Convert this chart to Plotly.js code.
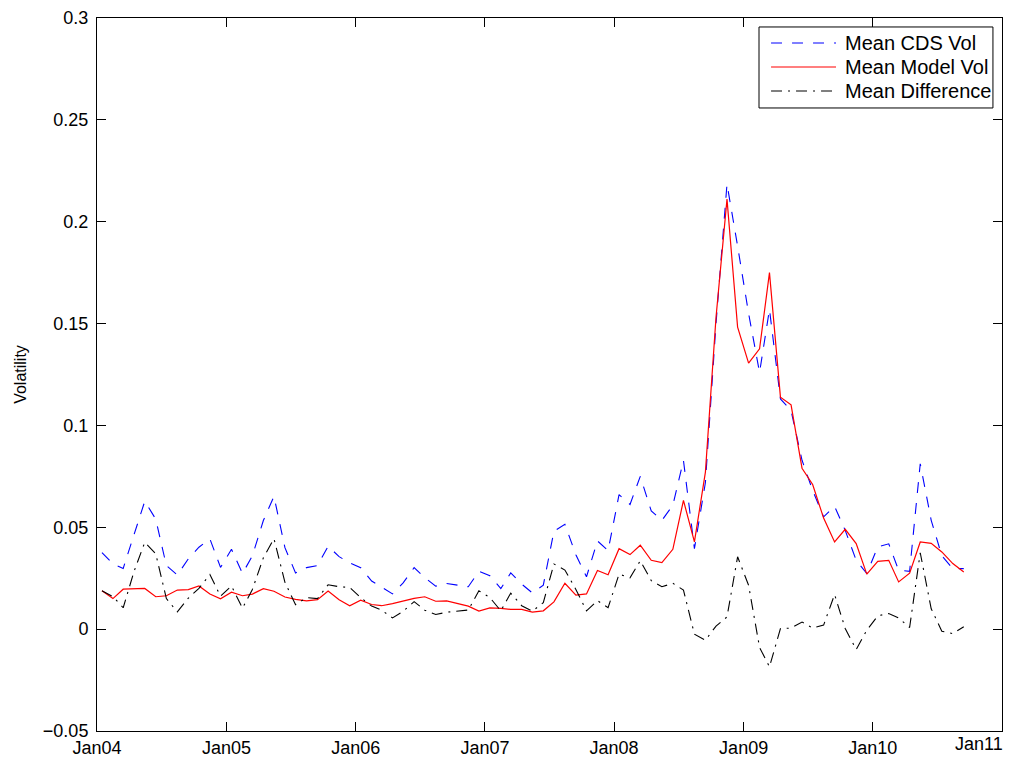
<!DOCTYPE html>
<html>
<head>
<meta charset="utf-8">
<script src="https://cdn.plot.ly/plotly-3.0.1.min.js"></script>
<style>html,body{margin:0;padding:0;background:#fff;}#chart{width:1034px;height:763px;}</style>
</head>
<body>
<div id="chart"></div>
<script>
// Monthly observations, Jan 2004 .. Sep 2010 (81 months)
const startYear = 2004, startMonth = 1, nMonths = 81;

const meanCdsVol = [
  0.0376, 0.0320, 0.0298, 0.0465, 0.0628, 0.0540, 0.0312, 0.0266, 0.0345, 0.0402, 0.0443, 0.0303,
  0.0392, 0.0273, 0.0360, 0.0533, 0.0652, 0.0400, 0.0276, 0.0302, 0.0312, 0.0407, 0.0356, 0.0325,
  0.0302, 0.0236, 0.0207, 0.0173, 0.0227, 0.0302, 0.0253, 0.0211, 0.0224, 0.0216, 0.0208, 0.0284,
  0.0262, 0.0199, 0.0276, 0.0221, 0.0178, 0.0216, 0.0480, 0.0515, 0.0365, 0.0257, 0.0433, 0.0385,
  0.0660, 0.0612, 0.0750, 0.0580, 0.0534, 0.0608, 0.0828, 0.0395, 0.0720, 0.1500, 0.2185, 0.1880,
  0.1550, 0.1260, 0.1570, 0.1130, 0.1073, 0.0829, 0.0681, 0.0551, 0.0603, 0.0485, 0.0338, 0.0273,
  0.0404, 0.0419, 0.0289, 0.0284, 0.0812, 0.0534, 0.0360, 0.0297, 0.0297
];

const meanModelVol = [
  0.0188, 0.0150, 0.0196, 0.0197, 0.0200, 0.0159, 0.0164, 0.0192, 0.0194, 0.0212, 0.0172, 0.0149,
  0.0181, 0.0164, 0.0172, 0.0199, 0.0186, 0.0158, 0.0146, 0.0139, 0.0145, 0.0187, 0.0144, 0.0115,
  0.0142, 0.0121, 0.0115, 0.0125, 0.0137, 0.0151, 0.0159, 0.0137, 0.0139, 0.0126, 0.0113, 0.0089,
  0.0104, 0.0102, 0.0097, 0.0097, 0.0084, 0.0090, 0.0134, 0.0225, 0.0167, 0.0173, 0.0288, 0.0267,
  0.0395, 0.0366, 0.0412, 0.0338, 0.0327, 0.0392, 0.0632, 0.0428, 0.0771, 0.1531, 0.2111, 0.1482,
  0.1306, 0.1376, 0.1750, 0.1139, 0.1101, 0.0790, 0.0710, 0.0545, 0.0428, 0.0490, 0.0420, 0.0270,
  0.0333, 0.0338, 0.0232, 0.0275, 0.0428, 0.0421, 0.0379, 0.0322, 0.0281
];

const meanDifference = [
  0.0188, 0.0160, 0.0105, 0.0285, 0.0426, 0.0370, 0.0150, 0.0085, 0.0152, 0.0200, 0.0268, 0.0162,
  0.0212, 0.0103, 0.0195, 0.0350, 0.0444, 0.0230, 0.0120, 0.0155, 0.0150, 0.0218, 0.0208, 0.0205,
  0.0155, 0.0113, 0.0093, 0.0055, 0.0088, 0.0135, 0.0093, 0.0072, 0.0083, 0.0088, 0.0094, 0.0188,
  0.0155, 0.0090, 0.0177, 0.0115, 0.0088, 0.0130, 0.0320, 0.0290, 0.0195, 0.0090, 0.0140, 0.0105,
  0.0270, 0.0252, 0.0336, 0.0238, 0.0208, 0.0225, 0.0192, -0.0025, -0.0054, 0.0015, 0.0060, 0.0355,
  0.0215, -0.0090, -0.0185, 0.0003, 0.0005, 0.0035, 0.0005, 0.0020, 0.0170, 0.0003, -0.0100, -0.0005,
  0.0065, 0.0077, 0.0055, 0.0008, 0.0375, 0.0100, -0.0010, -0.0022, 0.0012
];

const seriesNames = ['Mean CDS Vol', 'Mean Model Vol', 'Mean Difference'];
const xTickVals = ['2004-01-01','2005-01-01','2006-01-01','2007-01-01','2008-01-01','2009-01-01','2010-01-01','2011-01-01'];
const xTickText = ['Jan04','Jan05','Jan06','Jan07','Jan08','Jan09','Jan10',''];
const lastTickText = 'Jan11';
const yTickVals = [-0.05, 0, 0.05, 0.1, 0.15, 0.2, 0.25, 0.3];

// build mid-month date categories
const dates = [];
for (let k = 0; k < nMonths; k++) {
  const m = startMonth - 1 + k;
  const y = startYear + Math.floor(m / 12);
  const mm = (m % 12) + 1;
  dates.push(y + '-' + String(mm).padStart(2, '0') + '-15');
}

const FONT = 'Liberation Sans, Arial, Helvetica, sans-serif';
const TICK_SIZE = 18;

const styles = [
  {color: '#0000ff', width: 1.1, dash: '11px,10px'},
  {color: '#ff0000', width: 1.2, dash: 'solid'},
  {color: '#000000', width: 1.1, dash: '11px,6px,2px,6px'}
];
const seriesData = [meanCdsVol, meanModelVol, meanDifference];

const traces = seriesData.map((ys, i) => ({
  x: dates, y: ys, type: 'scatter', mode: 'lines', name: seriesNames[i],
  line: styles[i], showlegend: false
}));

// MATLAB-style legend box drawn in paper coordinates
const legBox = {x0: 0.7315, x1: 0.990, y0: 0.8738, y1: 0.9874};
const legRows = [0.9649, 0.9313, 0.8976];
const legLine = {x0: 0.7448, x1: 0.8166};
const legTextX = 0.8254;

const shapes = [
  {type: 'rect', xref: 'paper', yref: 'paper', x0: legBox.x0, x1: legBox.x1, y0: legBox.y0, y1: legBox.y1,
   line: {color: '#000000', width: 1}, fillcolor: '#ffffff', layer: 'above'}
];
const annotations = [
  {x: xTickVals[xTickVals.length - 1], y: 0, xref: 'x', yref: 'paper', yanchor: 'top', xanchor: 'right',
   text: lastTickText, showarrow: false, yshift: -1, xshift: 3,
   font: {family: FONT, size: TICK_SIZE, color: '#000000'}}
];
seriesNames.forEach((nm, i) => {
  shapes.push({type: 'line', xref: 'paper', yref: 'paper', x0: legLine.x0, x1: legLine.x1,
    y0: legRows[i], y1: legRows[i], line: styles[i], layer: 'above'});
  annotations.push({x: legTextX, y: legRows[i], xref: 'paper', yref: 'paper', xanchor: 'left', yanchor: 'middle',
    text: nm, showarrow: false, font: {family: FONT, size: 20, color: '#000000'}, borderpad: 0});
});

const layout = {
  width: 1034, height: 763,
  margin: {l: 97, r: 32, t: 18, b: 32, pad: 0},
  paper_bgcolor: '#ffffff', plot_bgcolor: '#ffffff',
  font: {family: FONT, size: TICK_SIZE, color: '#000000'},
  showlegend: false,
  xaxis: {
    type: 'date', range: ['2004-01-01', '2011-01-01'],
    tickmode: 'array', tickvals: xTickVals, ticktext: xTickText,
    ticks: 'inside', ticklen: 9, tickwidth: 1, tickcolor: '#000000',
    showline: true, linecolor: '#000000', linewidth: 1, mirror: 'ticks',
    showgrid: false, zeroline: false, ticklabelstandoff: 0,
    tickfont: {family: FONT, size: TICK_SIZE, color: '#000000'}
  },
  yaxis: {
    range: [-0.05, 0.3],
    tickmode: 'array', tickvals: yTickVals,
    ticks: 'inside', ticklen: 9, tickwidth: 1, tickcolor: '#000000',
    showline: true, linecolor: '#000000', linewidth: 1, mirror: 'ticks',
    showgrid: false, zeroline: false, ticklabelstandoff: 4,
    tickfont: {family: FONT, size: TICK_SIZE, color: '#000000'},
    title: {text: 'Volatility', font: {family: FONT, size: 16, color: '#000000'}, standoff: 12}
  },
  shapes: shapes,
  annotations: annotations
};

Plotly.newPlot('chart', traces, layout, {displayModeBar: false, staticPlot: true});
</script>
</body>
</html>
